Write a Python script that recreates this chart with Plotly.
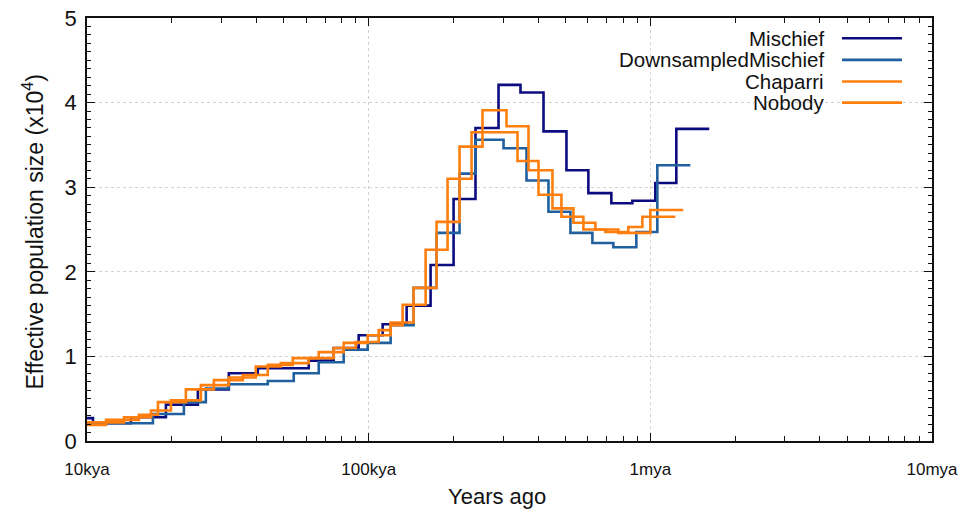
import plotly.graph_objects as go

# PSMC step curves: interval start times (years) and effective population size (x10^4)
mischief_t = [10000, 10500, 14320, 19060, 24750, 31880, 40400, 61280, 75150, 92150,
              112100, 136400, 165900, 200200, 239500, 289100, 345900, 417600, 503700,
              602600, 727100, 863300, 1041600, 1236700, 1619000]
mischief_ne = [0.27, 0.21, 0.28, 0.43, 0.61, 0.80, 0.86, 0.95, 1.10, 1.25, 1.38, 1.60,
               2.08, 2.86, 3.70, 4.21, 4.12, 3.66, 3.20, 2.93, 2.81, 2.84, 3.05, 3.69]

downsampled_t = [10000, 17140, 22080, 26420, 31880, 43840, 54200, 66490, 81520, 99200,
                 119700, 144400, 174200, 210200, 239500, 301200, 363400, 434800, 520400,
                 622700, 739100, 891900, 1058800, 1386800]
downsampled_ne = [0.21, 0.32, 0.46, 0.62, 0.67, 0.71, 0.80, 0.93, 1.08, 1.16, 1.37, 1.81,
                  2.46, 3.16, 3.56, 3.46, 3.08, 2.71, 2.46, 2.34, 2.29, 2.47, 3.26]

chaparri_t = [10000, 11680, 15290, 17860, 22440, 28210, 35740, 43840, 53770, 66490,
              81520, 99200, 119700, 132000, 159300, 190600, 231900, 337600, 400800,
              483500, 578500, 692400, 835600, 936800, 1227000]
chaparri_ne = [0.19, 0.25, 0.31, 0.46, 0.61, 0.72, 0.78, 0.90, 0.98, 1.05, 1.16, 1.25,
               1.37, 1.61, 2.26, 3.10, 3.65, 3.31, 2.91, 2.65, 2.50, 2.47, 2.53, 2.65]

nobody_t = [10000, 13530, 16870, 19860, 25370, 31880, 39740, 48740, 61280, 75150,
            89920, 108500, 119700, 144400, 174200, 210200, 253600, 308600, 369400,
            449300, 533300, 638300, 770000, 1000000, 1309000]
nobody_ne = [0.22, 0.28, 0.36, 0.48, 0.66, 0.75, 0.88, 0.92, 0.98, 1.10, 1.17, 1.31,
             1.40, 1.81, 2.59, 3.48, 3.91, 3.72, 3.20, 2.75, 2.58, 2.50, 2.46, 2.73]

series_names = ["Mischief", "DownsampledMischief", "Chaparri", "Nobody"]
series_colors = ["#0c0c80", "#21609f", "#ff7f0e", "#ff7f0e"]
series_data = [(mischief_t, mischief_ne), (downsampled_t, downsampled_ne),
               (chaparri_t, chaparri_ne), (nobody_t, nobody_ne)]

x_tick_vals = [1e4, 1e5, 1e6, 1e7]
x_tick_text = ["10kya", "100kya", "1mya", "10mya"]
x_minor_vals = [m * 10 ** e for e in (4, 5, 6) for m in range(2, 10)]

FONT = "Liberation Sans, Arial, sans-serif"

fig = go.Figure()
for name, color, (t, ne) in zip(series_names, series_colors, series_data):
    fig.add_trace(go.Scatter(
        x=t, y=list(ne) + [ne[-1]], mode="lines", name=name,
        line=dict(color=color, width=2.6, shape="hv"), showlegend=False,
    ))

fig.update_layout(
    width=960, height=515,
    margin=dict(l=87, r=28, t=18, b=74),
    paper_bgcolor="white", plot_bgcolor="white",
    font=dict(family=FONT, color="#111"),
)

fig.update_xaxes(
    type="log", range=[4, 7], automargin=False,
    tickmode="array", tickvals=x_tick_vals, ticktext=x_tick_text,
    tickfont=dict(size=17), ticklabelstandoff=12,
    ticks="inside", ticklen=8, tickcolor="#111", tickwidth=1,
    showline=True, linecolor="#111", linewidth=1.5, mirror="allticks",
    showgrid=True, gridcolor="#d2d2d2", griddash="dot", gridwidth=1,
    minor=dict(tickmode="array", tickvals=x_minor_vals, ticks="inside",
               ticklen=5, tickcolor="#111", showgrid=False),
    zeroline=False,
)
fig.update_yaxes(
    range=[0, 5], tickmode="linear", tick0=0, dtick=1, automargin=False,
    tickfont=dict(size=22), ticklabelstandoff=4,
    ticks="inside", ticklen=8, tickcolor="#111", tickwidth=1,
    showline=True, linecolor="#111", linewidth=1.5, mirror="allticks",
    showgrid=True, gridcolor="#d2d2d2", griddash="dot", gridwidth=1,
    minor=dict(dtick=0.1, ticks="inside", ticklen=4, tickcolor="#111", showgrid=False),
    zeroline=False,
)

# Axis titles
fig.add_annotation(text="Years ago", xref="paper", yref="paper", x=0.485, y=-0.132,
                   xanchor="center", yanchor="middle", showarrow=False,
                   font=dict(size=22, family=FONT, color="#111"))
fig.add_annotation(text="Effective population size (x10<sup>4</sup>)", xref="paper", yref="paper",
                   x=-0.064, y=0.495, textangle=-90, xanchor="center", yanchor="middle",
                   showarrow=False, font=dict(size=23, family=FONT, color="#111"))

# Key: label on the left, line sample on the right
key_rows = [0.952, 0.901, 0.850, 0.800]
for name, color, yy in zip(series_names, series_colors, key_rows):
    fig.add_annotation(text=name, xref="paper", yref="paper", x=0.8745, y=yy,
                       xanchor="right", yanchor="middle", showarrow=False,
                       font=dict(size=20.5, family=FONT, color="#111"))
    fig.add_shape(type="line", xref="paper", yref="paper", x0=0.8935, x1=0.9645,
                  y0=yy, y1=yy, line=dict(color=color, width=2.6))

fig.write_html("out.html")
